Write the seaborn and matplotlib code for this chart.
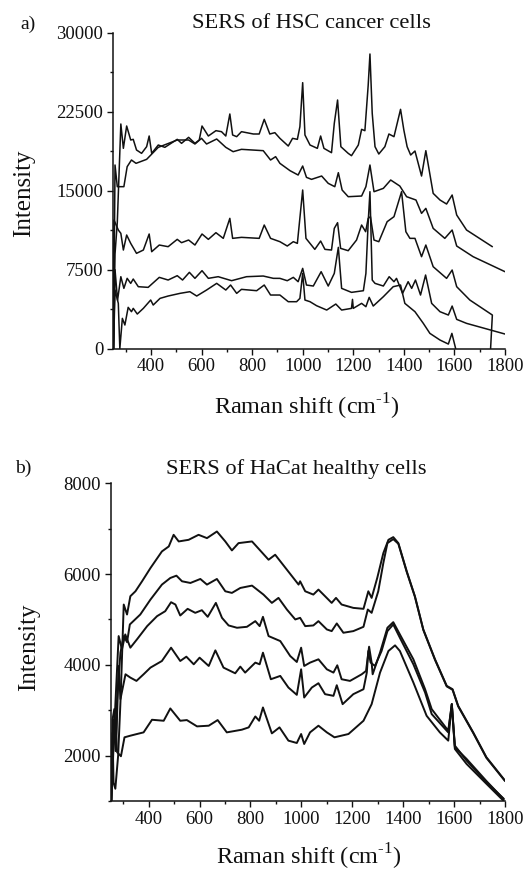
import matplotlib
matplotlib.use("Agg")
import matplotlib.pyplot as plt
import seaborn as sns
from matplotlib.ticker import MultipleLocator

# PANEL A: HSC cancer cells
a1_x = [252,258,267,281,291,304,320,330,343,363,383,393,403,429,455,504,521,549,574,591,602,627,657,679,696,712,723,739,758,805,828,848,870,890,910,943,960,979,989,1000,1009,1029,1058,1071,1084,1114,1125,1138,1151,1180,1193,1220,1233,1246,1259,1266,1275,1286,1301,1325,1341,1361,1387,1400,1413,1427,1444,1470,1487,1516,1543,1569,1591,1609,1648,1750]
a1_y = [0,9000,12000,21332,19022,21142,19813,19876,18864,18547,19180,20193,18547,19338,19117,19876,19497,20066,19497,19813,21142,20193,20699,20604,20193,22282,20288,20130,20604,20383,20383,21775,20383,20509,19970,19242,19970,19875,21078,25256,20287,19337,19021,20192,19021,18609,21394,23610,19179,18546,18324,19337,20825,20698,25000,27978,22344,19179,18483,19179,20382,20129,22724,20762,19179,18388,18768,16394,18799,14748,14115,13735,14590,12691,11267,9684]

a2_x = [252,258,267,280,293,306,323,341,383,429,504,549,574,600,620,660,696,725,758,844,873,893,910,950,982,1000,1015,1035,1075,1101,1127,1141,1156,1180,1233,1250,1266,1282,1319,1348,1384,1411,1448,1470,1487,1516,1562,1591,1609,1674,1800]
a2_y = [0,17440,15382,15382,15382,17281,17914,17598,17977,19117,19813,19813,19433,19971,19433,19908,19117,18705,18927,18800,17914,18231,17596,16900,16489,17343,16267,16077,16394,15698,15381,16710,15064,14431,14495,15381,17438,14906,15222,16014,15444,14431,14115,12849,13323,11425,10475,11267,9748,8735,7310]

a3_x = [252,254,271,281,291,304,320,343,370,393,403,433,468,504,521,549,574,602,627,657,686,712,723,758,828,848,873,910,939,963,979,1000,1013,1048,1071,1088,1114,1125,1138,1150,1180,1213,1233,1249,1259,1268,1282,1301,1334,1361,1391,1408,1424,1444,1470,1487,1516,1569,1591,1609,1661,1750,1743]
a3_y = [0,12217,11268,10951,9368,10793,10001,9052,9368,10888,9210,9843,9685,10381,10065,10318,9843,10888,10381,11015,10476,12375,10476,10571,10476,11742,10476,10159,9748,10159,10000,15065,10475,9431,10222,9431,9368,11425,11963,9526,9304,10317,11741,11108,12374,12533,10317,10159,12058,12533,14906,11108,10475,10475,8735,9843,7785,6677,7468,5886,4620,3196,0]

a4_x = [252,258,268,281,293,306,320,330,350,389,433,468,504,525,552,574,602,627,666,719,778,844,884,910,939,963,982,1000,1015,1042,1073,1101,1125,1141,1154,1193,1240,1250,1259,1266,1275,1286,1319,1342,1361,1371,1395,1417,1431,1446,1466,1486,1510,1543,1576,1591,1609,1648,1800]
a4_y = [0,7500,4600,6836,5729,6680,6200,6615,5887,5823,6773,6520,6932,6520,7249,6680,7407,6680,6836,6457,6836,6900,6680,6677,6456,6772,6361,7627,6044,5950,7310,5950,7152,9620,5728,5348,5506,7152,12000,14906,6519,6202,5950,6835,6361,6677,5252,6361,5728,6519,5095,6994,4304,3512,3196,4050,2784,2405,1392]

a5_x = [252,258,271,277,287,297,310,323,330,346,370,399,409,436,468,515,554,581,620,660,696,715,739,758,818,848,873,910,943,976,989,1000,1009,1029,1055,1095,1131,1154,1193,1197,1200,1233,1250,1263,1279,1319,1358,1387,1404,1444,1477,1503,1543,1576,1590,1605]
a5_y = [0,5570,4304,0,2881,2248,3925,3513,3830,3292,3830,4621,4146,4779,5001,5254,5412,5001,5570,6204,5570,6045,5254,5634,5507,6045,5096,5095,4462,4462,4778,7152,4620,4462,4082,3670,4240,3670,3828,4683,3828,4304,3987,4873,4051,4937,5887,6044,4304,3512,2405,1455,822,442,1455,0]

# PANEL B: HaCat healthy cells
b1_x = [253,258,262,269,280,290,302,315,328,348,374,407,452,479,498,518,557,596,629,668,701,727,753,806,838,871,897,943,989,995,1015,1047,1067,1093,1119,1136,1158,1204,1244,1263,1276,1298,1322,1342,1361,1381,1414,1446,1479,1525,1571,1594,1616,1675,1727,1800]
b1_y = [1000,2500,1400,1270,2000,3300,5329,5109,5512,5621,5841,6133,6499,6609,6865,6719,6755,6865,6792,6938,6719,6521,6682,6719,6521,6316,6426,6097,5768,5841,5621,5548,5658,5512,5365,5475,5329,5255,5234,5621,5475,5914,6462,6755,6814,6682,6060,5512,4780,4122,3537,3463,3098,2512,1964,1450]

b2_x = [253,262,270,276,289,302,315,326,367,407,452,485,509,531,564,603,629,668,701,727,760,806,851,884,910,943,976,995,1015,1047,1067,1100,1119,1139,1165,1204,1244,1261,1276,1302,1322,1338,1361,1381,1414,1446,1479,1525,1571,1594,1616,1675,1727,1800]
b2_y = [1000,2800,2100,3244,4268,4634,4500,4890,5109,5438,5768,5914,5965,5841,5804,5892,5768,5892,5621,5585,5694,5746,5548,5365,5475,5219,5000,5036,4853,4868,4963,4780,4743,4912,4707,4743,4838,5219,5146,5621,6243,6682,6770,6667,6045,5500,4770,4110,3525,3450,3085,2500,1950,1440]

b3_x = [253,268,282,295,308,328,354,394,433,465,488,505,524,553,583,609,632,664,688,714,747,786,819,836,849,871,917,956,982,999,1011,1034,1067,1100,1126,1141,1158,1191,1237,1254,1266,1276,1280,1309,1338,1361,1387,1440,1486,1512,1577,1591,1603,1649,1727,1795]
b3_y = [1000,3000,4634,4341,4670,4378,4561,4853,5073,5182,5380,5329,5087,5234,5146,5204,5058,5365,5036,4868,4817,4838,4963,4853,5058,4634,4524,4195,4063,4378,3975,4049,4122,3902,3829,3990,3683,3646,3792,3866,4400,4049,3792,4268,4817,4941,4670,4122,3463,3024,2549,3134,2220,1890,1415,1050]

b4_x = [253,262,272,282,289,309,328,352,380,407,452,488,524,548,577,600,636,662,694,740,760,779,819,836,849,880,917,949,982,999,1011,1041,1067,1093,1126,1139,1162,1204,1244,1257,1263,1272,1289,1315,1338,1361,1387,1440,1486,1512,1577,1591,1603,1649,1727,1795]
b4_y = [1000,2600,2200,3975,3244,3792,3719,3646,3792,3939,4085,4378,4085,4180,4012,4158,3975,4319,3939,3814,3961,3829,4049,4012,4268,3683,3756,3500,3339,3902,3280,3500,3595,3354,3317,3551,3134,3354,3463,3829,4305,4050,3975,4305,4743,4890,4597,4012,3390,2915,2512,3134,2183,1927,1440,1040]

b5_x = [253,258,265,276,291,305,328,354,380,413,459,485,524,550,590,636,671,707,766,793,819,834,849,884,914,949,982,999,1011,1034,1067,1100,1130,1185,1244,1276,1309,1342,1368,1387,1440,1492,1544,1577,1591,1603,1649,1727,1795]
b5_y = [1000,2800,3025,2074,1986,2403,2439,2476,2512,2790,2768,3039,2768,2783,2644,2659,2783,2512,2571,2622,2863,2768,3061,2490,2622,2330,2278,2476,2256,2512,2659,2512,2403,2476,2768,3134,3829,4305,4429,4305,3610,2878,2512,2330,3134,2147,1817,1379,1000]

x_major = [400,600,800,1000,1200,1400,1600,1800]
a_yticks = [0,7500,15000,22500,30000]
b_yticks = [2000,4000,6000,8000]

sns.set_style("ticks")
plt.rcParams['font.family'] = ['Liberation Serif', 'DejaVu Serif']
plt.rcParams['mathtext.fontset'] = 'custom'
plt.rcParams['mathtext.rm'] = 'Liberation Serif'

W, H = 527, 872
ink = '#111111'
fig = plt.figure(figsize=(W/100, H/100), dpi=100)
ax_a = fig.add_axes([113/W, 1-348.7/H, 392/W, 316/H])
ax_b = fig.add_axes([110.5/W, 1-801/H, 394.5/W, 317.7/H])

for xs, ys in [(a1_x,a1_y),(a2_x,a2_y),(a3_x,a3_y),(a4_x,a4_y),(a5_x,a5_y)]:
    sns.lineplot(x=xs, y=ys, ax=ax_a, color=ink, linewidth=1.1, sort=False, estimator=None)
for xs, ys in [(b1_x,b1_y),(b2_x,b2_y),(b3_x,b3_y),(b4_x,b4_y),(b5_x,b5_y)]:
    sns.lineplot(x=xs, y=ys, ax=ax_b, color=ink, linewidth=1.4, sort=False, estimator=None)

# axes
ax_a.set_ylim(0, 30000)
ax_b.set_ylim(1000, 8000)
ax_a.set_yticks(a_yticks)
ax_b.set_yticks(b_yticks)
ax_a.yaxis.set_minor_locator(MultipleLocator(3750))
ax_b.yaxis.set_minor_locator(MultipleLocator(1000))

for ax in [ax_a, ax_b]:
    ax.set_xlim(250, 1800)
    ax.set_xticks(x_major)
    ax.xaxis.set_minor_locator(MultipleLocator(100))
    ax.tick_params(which='major', length=4, width=1, labelsize=13.5, pad=3, color=ink, labelcolor=ink)
    ax.tick_params(which='minor', length=2.5, width=1, color=ink)
    sns.despine(ax=ax)
    for s in ['left', 'bottom']:
        ax.spines[s].set_linewidth(1.1)
        ax.spines[s].set_color(ink)

xlabel = 'Raman shift (cm$^{\\mathregular{\u20101}}$)'
fig.text(311/W, 1-24/H, 'SERS of HSC cancer cells', fontsize=16.2, ha='center', va='center', color=ink)
fig.text(296/W, 1-469/H, 'SERS of HaCat healthy cells', fontsize=16.2, ha='center', va='center', color=ink)
fig.text(28/W, 1-24/H, 'a)', fontsize=14, ha='center', va='center', color=ink)
fig.text(23/W, 1-468/H, 'b)', fontsize=14, ha='center', va='center', color=ink)
fig.text(24/W, 1-193/H, 'Intensity', fontsize=18, rotation=90, ha='center', va='center', color=ink)
fig.text(29/W, 1-647/H, 'Intensity', fontsize=18, rotation=90, ha='center', va='center', color=ink)
fig.text(307/W, 1-407/H, xlabel, fontsize=17.5, ha='center', va='center', color=ink)
fig.text(309/W, 1-857/H, xlabel, fontsize=17.5, ha='center', va='center', color=ink)

fig.savefig('out.png', dpi=100)
